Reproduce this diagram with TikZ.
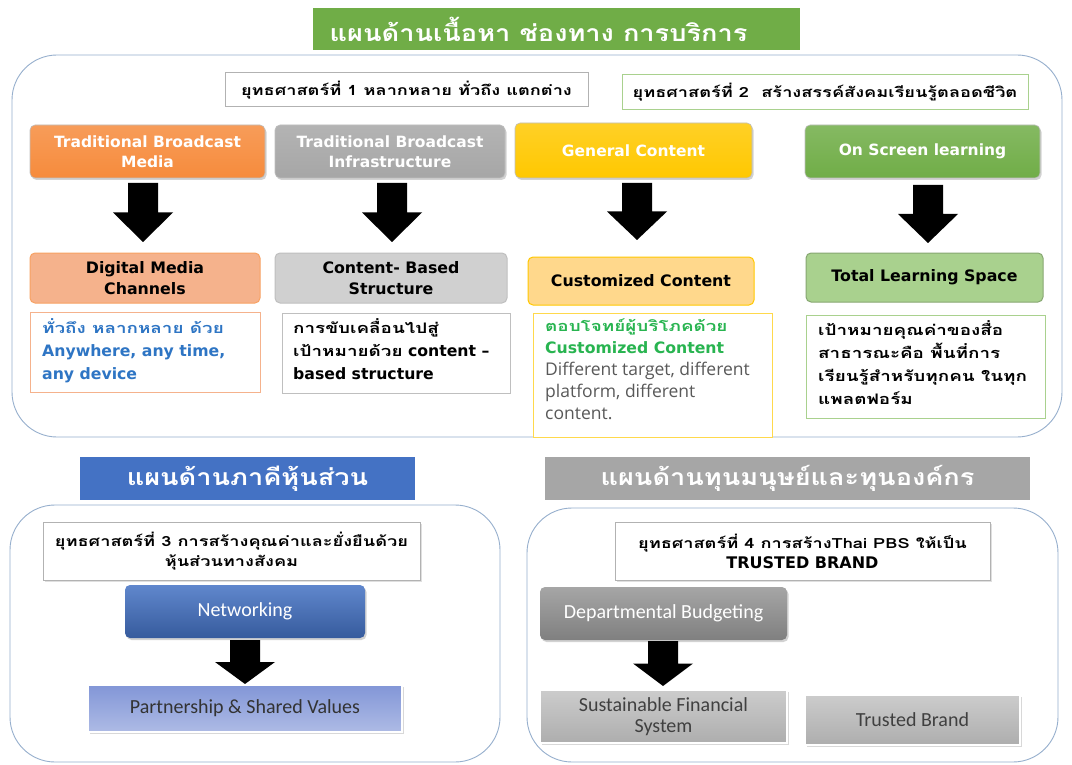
\documentclass[tikz,border=0pt]{standalone}
\usepackage{fontspec}
\setmainfont{DejaVu Sans}
\newfontfamily\thaihead[Script=Thai, FakeStretch=1.18]{Loma}
\newfontfamily\thai[Script=Thai, FakeStretch=1.3]{Loma}
\newfontfamily\seg{Open Sans}
\newfontfamily\cali{Carlito}
\usetikzlibrary{shadows}

\definecolor{cOrange}{RGB}{246,139,60}
\definecolor{cGray}{RGB}{166,166,166}
\definecolor{cYellow}{RGB}{255,200,0}
\definecolor{cGreen}{RGB}{112,173,71}
\definecolor{lOrange}{RGB}{245,178,140}
\definecolor{lGray}{RGB}{208,208,208}
\definecolor{lYellow}{RGB}{255,216,140}
\definecolor{lGreen}{RGB}{169,209,142}
\definecolor{cBlue}{RGB}{68,114,196}
\definecolor{cLav}{RGB}{130,150,215}
\definecolor{tBlue}{RGB}{46,117,196}
\definecolor{tGreen}{RGB}{40,180,80}
\definecolor{tGray}{RGB}{89,89,89}
\definecolor{frame}{RGB}{150,175,205}

% a box spanning two corners (left, top, right, bottom), with centred text
\newcommand\boxnode[7][]{\node[#1, minimum width={#5-#3}, minimum height={#6-#4}, inner sep=0pt, align=center]
  (#2) at ({(#3+#5)/2},{(#4+#6)/2}) {#7};}
% a black block arrow: centre x, top y, bottom y
\newcommand\blockarr[3]{\fill[black] ({#1-15},#2) -- ({#1+15},#2) -- ({#1+15},{(#2+#3)/2}) -- ({#1+30},{(#2+#3)/2}) -- (#1,#3) -- ({#1-30},{(#2+#3)/2}) -- ({#1-15},{(#2+#3)/2}) -- cycle;}

\tikzset{
  container/.style={draw=frame, line width=0.9pt, rounded corners=45pt},
  header/.style={text=white, font=\thaihead\bfseries\fontsize{23}{26}\selectfont},
  strat/.style={draw=black!30, line width=1pt, fill=white, font=\thai\bfseries\fontsize{14}{20}\selectfont},
  topbox/.style={rounded corners=5pt, draw=black!25, line width=0.6pt, drop shadow={opacity=0.35, shadow xshift=1.5pt, shadow yshift=-2pt},
     text=white, font=\bfseries\fontsize{15.5}{20}\selectfont},
  midbox/.style={rounded corners=5pt, line width=1pt, font=\bfseries\fontsize{15.8}{21}\selectfont},
  notebox/.style={draw, line width=1pt, fill=white},
  notetext/.style={anchor=north west, align=left, inner sep=0pt},
  planbox/.style={rounded corners=5pt, drop shadow={opacity=0.35, shadow xshift=1.5pt, shadow yshift=-2pt},
     text=white, font=\cali\fontsize{20}{22}\selectfont},
  resbox/.style={draw=white, line width=2.5pt, drop shadow={opacity=0.3, shadow xshift=2pt, shadow yshift=-2pt},
     font=\cali\fontsize{20}{21}\selectfont},
}

\begin{document}
\begin{tikzpicture}[x=1pt,y=-1pt]
\useasboundingbox[fill=white] (0,0) rectangle (1072,765);

% ---- content, channels and services ----
\boxnode[container]{frameA}{12}{55}{1062}{437}{}
\boxnode[fill=cGreen, header]{hA}{313}{8}{800}{50}{\mbox{แผนด้านเนื้อหา ช่องทาง การบริการ\kern36pt}}
\boxnode[strat]{s1}{225}{73}{588}{107}{ยุทธศาสตร์ที่ 1 หลากหลาย ทั่วถึง แตกต่าง}
\boxnode[strat, draw=lGreen]{s2}{622}{75}{1028}{110}{ยุทธศาสตร์ที่ 2 \ สร้างสรรค์สังคมเรียนรู้ตลอดชีวิต}

\boxnode[topbox, top color=cOrange!85!white, bottom color=cOrange]{t1}{30}{125}{265}{178}{Traditional Broadcast\\Media}
\boxnode[topbox, top color=cGray!85!white, bottom color=cGray]{t2}{275}{125}{505}{178}{Traditional Broadcast\\Infrastructure}
\boxnode[topbox, top color=cYellow!85!white, bottom color=cYellow]{t3}{515}{123}{752}{178}{General Content}
\boxnode[topbox, top color=cGreen!85!white, bottom color=cGreen]{t4}{805}{125}{1040}{178}{On Screen learning}

\boxnode[midbox, draw=cOrange!80, fill=lOrange]{m1}{30}{253}{260}{303}{Digital Media\\Channels}
\boxnode[midbox, draw=black!25, fill=lGray]{m2}{275}{253}{507}{303}{Content- Based\\Structure}
\boxnode[midbox, draw=cYellow, fill=lYellow]{m3}{528}{257}{754}{305}{Customized Content}
\boxnode[midbox, draw=lGreen!80!black, fill=lGreen]{m4}{806}{253}{1043}{302}{Total Learning Space}

\blockarr{143}{183}{242}
\blockarr{392}{183}{242}
\blockarr{637}{183}{240}
\blockarr{928}{185}{243}

\boxnode[notebox, draw=lOrange]{n1}{30}{312}{260}{392}{}
\node[notetext, text=tBlue, font=\bfseries\fontsize{15.7}{23}\selectfont] at (42,318)
  {{\thai\fontsize{14.5}{23}\selectfont ทั่วถึง หลากหลาย ด้วย}\\Anywhere, any time,\\any device};
\boxnode[notebox, draw=black!25]{n2}{282}{313}{510}{393}{}
\node[notetext, font=\bfseries\fontsize{15.7}{23}\selectfont] at (293,318)
  {{\thai\fontsize{14.5}{23}\selectfont การขับเคลื่อนไปสู่}\\{\thai\fontsize{14.5}{23}\selectfont เป้าหมายด้วย} content –\\based structure};
\boxnode[notebox, draw=cYellow!70]{n3}{533}{313}{772}{437}{}
\node[notetext, font=\fontsize{15.7}{22}\selectfont] at (545,319)
  {{\thai\bfseries\fontsize{14.5}{22}\selectfont\color{tGreen}ตอบโจทย์ผู้บริโภคด้วย}\\{\bfseries\color{tGreen}Customized Content}\\
   {\seg\fontsize{17.5}{22}\selectfont\color{tGray}Different target, different}\\{\seg\fontsize{17.5}{22}\selectfont\color{tGray}platform, different}\\{\seg\fontsize{17.5}{22}\selectfont\color{tGray}content.}};
\boxnode[notebox, draw=lGreen]{n4}{806}{315}{1045}{418}{}
\node[notetext, font=\thai\bfseries\fontsize{14.5}{23}\selectfont] at (818,320)
  {เป้าหมายคุณค่าของสื่อ\\สาธารณะคือ พื้นที่การ\\เรียนรู้สำหรับทุกคน ในทุก\\แพลตฟอร์ม};

% ---- partners ----
\boxnode[container]{frameB}{10}{505}{500}{762}{}
\boxnode[fill=cBlue, header]{hB}{80}{457}{415}{500}{แผนด้านภาคีหุ้นส่วน}
\boxnode[strat, drop shadow={opacity=0.25, shadow xshift=1.5pt, shadow yshift=-1.5pt}]{s3}{43}{522}{420}{580}
  {ยุทธศาสตร์ที่ 3 การสร้างคุณค่าและยั่งยืนด้วย\\หุ้นส่วนทางสังคม}
\boxnode[planbox, top color=cBlue!85!white, bottom color=cBlue!80!black]{p1}{125}{585}{365}{638}{Networking}
\blockarr{245}{640}{684}
\boxnode[resbox, top color=cLav, bottom color=cLav!65!white, text=black!80]{r1}{88}{685}{402}{732}{Partnership \& Shared Values}

% ---- human and organisational capital ----
\boxnode[container]{frameC}{527}{508}{1058}{762}{}
\boxnode[fill=cGray, header]{hC}{545}{457}{1030}{500}{แผนด้านทุนมนุษย์และทุนองค์กร}
\boxnode[strat, drop shadow={opacity=0.25, shadow xshift=1.5pt, shadow yshift=-1.5pt}]{s4}{615}{522}{990}{580}
  {ยุทธศาสตร์ที่ 4 การสร้างThai PBS ให้เป็น\\{\normalfont\bfseries\fontsize{16}{20}\selectfont TRUSTED BRAND}}
\boxnode[planbox, top color=black!35, bottom color=black!50]{p2}{540}{587}{787}{640}{Departmental Budgeting}
\blockarr{663}{641}{686}
\boxnode[resbox, top color=black!20, bottom color=black!32, text=black!75]{r2}{540}{690}{787}{743}{Sustainable Financial\\System}
\boxnode[resbox, top color=black!20, bottom color=black!32, text=black!75]{r3}{805}{695}{1020}{745}{Trusted Brand}
\end{tikzpicture}
\end{document}
